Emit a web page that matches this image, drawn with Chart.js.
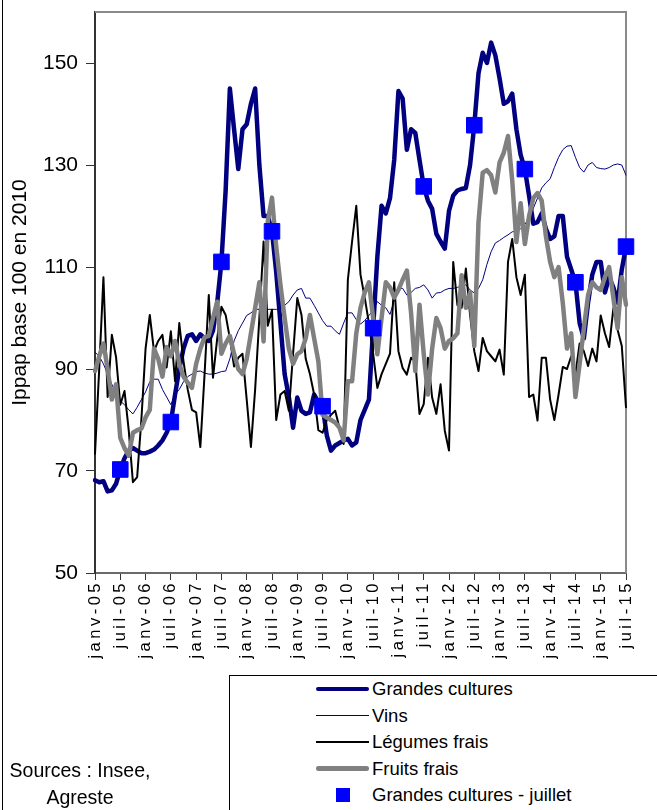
<!DOCTYPE html>
<html lang="fr"><head><meta charset="utf-8">
<script src="https://cdn.jsdelivr.net/npm/chart.js@4.4.1/dist/chart.umd.min.js"></script>
<style>
html,body{margin:0;padding:0;background:#fff;}
#wrap{position:relative;width:657px;height:810px;overflow:hidden;font-family:"Liberation Sans",Arial,sans-serif;color:#000;}
#c{position:absolute;left:0;top:0;}
#frame{position:absolute;left:2px;top:0;width:1px;height:810px;background:#000;}
#legend{position:absolute;left:229px;top:675px;width:470px;height:170px;border:1px solid #000;box-sizing:border-box;background:#fff;}
.item{position:absolute;left:0;width:100%;height:26px;}
.sw{position:absolute;}
.lbl{position:absolute;left:142px;top:0;line-height:26px;font-size:18.5px;white-space:nowrap;}
#src{position:absolute;left:1px;top:757px;width:158px;text-align:center;font-size:19.5px;line-height:27px;}
</style></head>
<body><div id="wrap"><canvas id="c" width="657" height="810"></canvas><div id="frame"></div><div id="legend"></div><div id="src">Sources : Insee,<br>Agreste</div></div>
<script>
// ---- categories / ticks ----
const monthNames = ['janv','févr','mars','avr','mai','juin','juil','août','sept','oct','nov','déc'];
const years = ['05','06','07','08','09','10','11','12','13','14','15'];
const categories = [];
years.forEach(y => monthNames.forEach(m => categories.push(m + '-' + y)));
categories.length = 127; // janv-05 .. juil-15
const tickLabels = ['janv-05','juil-05','janv-06','juil-06','janv-07','juil-07','janv-08','juil-08','janv-09','juil-09','janv-10','juil-10','janv-11','juil-11','janv-12','juil-12','janv-13','juil-13','janv-14','juil-14','janv-15','juil-15'];
const yTicks = [50,70,90,110,130,150];

// ---- series ----
const grandesCultures = [
68.2,67.8,68,66,66.2,67.5,70.3,72.5,74,74.5,74,73.5,
73.5,73.8,74.2,75,76,77.5,79.6,85,90,94,96.5,96.8,
95.5,96.8,96,95.5,97.5,103,111,125,145,137,129.2,137,
138,142,145,130,120,120,117,109,99,89,84.5,78.5,
84.4,81.8,81.2,81.5,85,83.5,82.7,77,74,75,75.5,76,
76.3,75,75.6,80,82,84,98,112,122,120.5,123.5,131,
144.5,143,133,137,136.3,131,125.8,123,121.4,116.5,115,113.6,
121,124,125,125.3,125.5,130,137.8,148,152,150,154,151.5,
147,142,142.5,144,137,132,129.2,124,118.5,118.8,120.5,117.5,
115.5,116,120,120,112,109.5,107,99,96,103,108.5,111,
111,105,108,106,103,109.5,114];
const vins = [
93.3,92.5,91,89,87,85,83.7,83,82,81.2,82.5,84,
85.5,87.5,88,88,86,84.5,83,85,86,87.5,88.5,89,
89.5,89.6,89.2,89,89,89.2,89.5,89.6,92,95.5,97.5,99,
100.5,101,101.7,101.7,101.7,101.7,101.7,101.7,101.7,102.5,103.2,104.5,
105.5,105.8,103.9,103.9,102.5,101,99.5,98.4,98.4,97.5,96.8,99,
101,101,99.7,98.8,99.5,100.5,101.5,103.2,102.5,102,100.7,103.5,
105.8,105.8,104.5,105,105.8,106,106.5,105.5,103.9,104.9,105,105.5,
105.8,105.8,106,106.3,106.5,105.5,104.9,105.8,107.5,110.5,113,114.7,
115.2,115.8,116.3,116.9,117,117.5,118.3,119.8,121.5,123.5,125.5,126.5,
127.3,129.5,131.5,133,133.7,133.8,131.5,129.5,128.6,130,130.5,129.5,
129.3,129.2,129.5,130,130.2,130,128];
const legumesFrais = [
73.4,90,108,84.5,96.7,92.3,83,85.7,78,67.8,68.8,80,
94,100.6,93.5,95.5,96.7,90.3,97.4,87.6,99,91.5,86,82,
81.5,74.7,89,104.5,88.3,96,102.2,100.6,96,90.5,92.2,93,
84,74.7,86,100,115,98.5,101.6,80,85,85.7,81.8,93,
103.9,100.6,92,89,85,78,77.5,80,81,81.8,78.5,75.3,
107.5,115,122,108.5,104,99,93,86.3,89,91,93,107,
93.5,90.2,88.9,92.2,91.5,81.2,83.1,92.2,84.4,81.2,87,77.9,
74,111,102.5,102,109.7,100.6,93.5,89.6,96.1,93.5,92.5,91.5,
93.8,88.9,111,115.5,108,104.5,108.5,84.5,85,79.9,92.2,92.2,
84,80,85,90.4,90,92.5,89,95,93.5,90.6,94,91.5,
100.5,97,94.3,101.9,97.7,94.5,82.5];
const fruitsFrais = [
89.6,92.5,95,90,84,87,76.5,74.5,73,77.5,78,78.3,
80.5,82,94,92,88.5,94.3,92.5,95.5,91,88.5,87.3,86.3,
91,94,96.2,96.5,100,103.2,93,95,96.5,93,90,89,
92,97,102,107,95.4,119,123.6,114,106.5,100,94,91,
92.9,93.5,96,100.6,96,91.5,81,80.5,80,79.5,78.5,76,
87.6,87.6,97,102,105,107,100,92.9,100,107,106,104,
105.5,107.5,109.3,101,89.6,102.6,93,85,94,100,98,94,
95.5,96,97,108.4,102,105,94.5,118.8,128.5,129,128,124.6,
130.5,132.4,135.7,127,114.9,122.5,114.5,120,123.5,124.5,123,116,
111,108,110,103,94,97,84.5,91,98,104.5,107,106,
105.5,108,110,104,98,108,102.6];
const juilletLabels = ['juil-05','juil-06','juil-07','juil-08','juil-09','juil-10','juil-11','juil-12','juil-13','juil-14','juil-15'];
const juilletValues = [70.3,79.6,111,117,82.7,98,125.8,137.8,129.2,107,114];

const juilletData = categories.map(c => { const k = juilletLabels.indexOf(c); return k >= 0 ? juilletValues[k] : null; });

Chart.defaults.font.family = "'Liberation Sans', Arial, sans-serif";
Chart.defaults.color = '#000';

const frame = {
  id: 'frame',
  beforeDatasetsDraw(chart) {
    const {ctx, chartArea: a} = chart;
    ctx.save();
    ctx.strokeStyle = '#8a8a8a'; ctx.lineWidth = 2;
    ctx.beginPath();
    ctx.moveTo(a.left, a.top); ctx.lineTo(a.right, a.top); ctx.lineTo(a.right, a.bottom);
    ctx.stroke();
    ctx.restore();
  },
  beforeDraw(chart) {
    const s = chart.scales.x;
    if (s && !s._spaced) {
      const orig = s.drawLabels;
      s.drawLabels = function (area) {
        const c = this.ctx; const prev = c.letterSpacing;
        c.letterSpacing = '3.5px';
        orig.call(this, area);
        c.letterSpacing = prev || '0px';
      };
      s._spaced = true;
    }
  }
};

const datasets = [
  {label:'Grandes cultures - juillet', data: juilletData, showLine:false, pointStyle:'rect', pointRadius:11, pointBorderWidth:1, pointBackgroundColor:'#0000ff', pointBorderColor:'#0000ff', borderColor:'#0000ff', backgroundColor:'#0000ff', order:0},
  {label:'Fruits frais', data: fruitsFrais, borderColor:'#808080', borderWidth:4.5, pointRadius:0, order:1},
  {label:'Légumes frais', data: legumesFrais, borderColor:'#000000', borderWidth:2, pointRadius:0, order:2},
  {label:'Vins', data: vins, borderColor:'#000080', borderWidth:1, pointRadius:0, order:3},
  {label:'Grandes cultures', data: grandesCultures, borderColor:'#000080', borderWidth:4.5, pointRadius:0, order:4}
];
datasets.forEach(d => { d.tension = 0; d.borderJoinStyle = 'round'; d.borderCapStyle = 'round'; d.fill = false; d.pointHoverRadius = d.pointRadius; });

new Chart(document.getElementById('c'), {
  type: 'line',
  data: { labels: categories, datasets },
  options: {
    responsive: false, animation: false, events: [],
    layout: { padding: { left: 0, right: 31, top: 9, bottom: 0 } },
    plugins: { legend: { display: false }, tooltip: { enabled: false } },
    scales: {
      x: {
        type: 'category', offset: false,
        grid: { display: true, drawOnChartArea: false, drawTicks: true, tickLength: 7,
                color: c => (tickLabels.includes(categories[c.index]) ? '#333' : 'rgba(0,0,0,0)'), lineWidth: 1 },
        border: { display: true, color: '#6a6a6a', width: 2 },
        ticks: { autoSkip: false, minRotation: 90, maxRotation: 90, padding: 0,
                 font: { size: 16.5 }, color: '#000',
                 callback: (v, i) => (tickLabels.includes(categories[i]) ? categories[i] : '') },
        afterFit: s => { s.height = 237; }
      },
      y: {
        type: 'linear', min: 50, max: 160,
        afterBuildTicks: s => { s.ticks = yTicks.map(v => ({ value: v })); },
        grid: { display: true, drawOnChartArea: false, tickLength: 9, color: '#333', lineWidth: 1 },
        border: { display: true, color: '#333', width: 2 },
        ticks: { font: { size: 21 }, color: '#000', padding: 8 },
        title: { display: true, text: 'Ippap base 100 en 2010', font: { size: 21 }, color: '#000', padding: { top: 8, bottom: 0 } },
        afterFit: s => { s.width = 95; s.paddingTop = 0; s.paddingBottom = 0; }
      }
    }
  },
  plugins: [frame]
});

// ---- legend (built from the datasets) ----
const legendOrder = ['Grandes cultures','Vins','Légumes frais','Fruits frais','Grandes cultures - juillet'];
const legendEl = document.getElementById('legend');
legendOrder.forEach((name, k) => {
  const ds = datasets.find(d => d.label === name);
  const item = document.createElement('div');
  item.className = 'item';
  item.style.top = (0 + k * 26.5) + 'px';
  const sw = document.createElement('div');
  sw.className = 'sw';
  if (ds.showLine === false) {
    sw.style.left = '106px'; sw.style.top = '6px'; sw.style.width = '14px'; sw.style.height = '14px';
    sw.style.background = ds.pointBackgroundColor;
  } else {
    const h = ds.borderWidth;
    sw.style.left = '86px'; sw.style.width = '53px';
    sw.style.height = h + 'px'; sw.style.top = (13 - h / 2) + 'px';
    sw.style.background = ds.borderColor;
    if (h > 2) sw.style.borderRadius = (h / 2) + 'px';
  }
  const lb = document.createElement('div');
  lb.className = 'lbl';
  lb.textContent = ds.label;
  item.appendChild(sw); item.appendChild(lb);
  legendEl.appendChild(item);
});
</script></body></html>
